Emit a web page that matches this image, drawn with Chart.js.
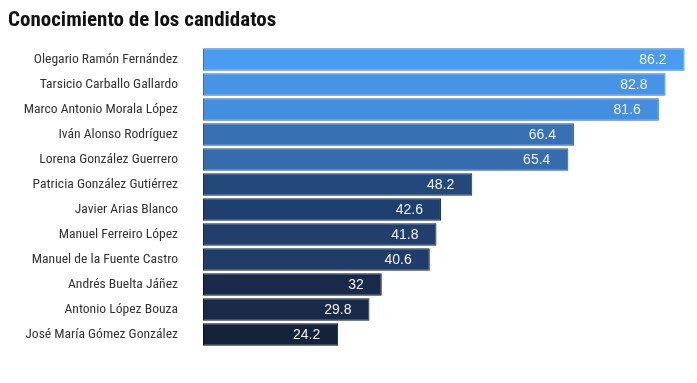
<!DOCTYPE html>
<html>
<head>
<meta charset="utf-8">
<script src="https://cdn.jsdelivr.net/npm/chart.js@4.4.1/dist/chart.umd.min.js"></script>
<style>
html,body{margin:0;padding:0;background:#fff;}
#wrap{width:697px;height:383px;position:relative;}
</style>
</head>
<body>
<div id="wrap"><canvas id="c" width="697" height="383"></canvas></div>
<script>
const titleText = "Conocimiento de los candidatos";
const candidates = [
  "Olegario Ramón Fernández",
  "Tarsicio Carballo Gallardo",
  "Marco Antonio Morala López",
  "Iván Alonso Rodríguez",
  "Lorena González Guerrero",
  "Patricia González Gutiérrez",
  "Javier Arias Blanco",
  "Manuel Ferreiro López",
  "Manuel de la Fuente Castro",
  "Andrés Buelta Jáñez",
  "Antonio López Bouza",
  "José María Gómez González"
];
const values = [86.2, 82.8, 81.6, 66.4, 65.4, 48.2, 42.6, 41.8, 40.6, 32, 29.8, 24.2];
const fillColors = ["#4a9cf0","#4794e6","#448ee0","#3870b4","#366cae","#23487a","#1f406e","#213e6c","#203c68","#18294a","#182a48","#14223a"];
const borderColors = ["#2f78c8","#2f72c0","#2e6cb8","#22528c","#225088","#142f58","#122a50","#12284c","#12264a","#0b1730","#0b1730","#081222"];

const condensed = "'Roboto Condensed','Liberation Sans Narrow','DejaVu Sans Condensed',Roboto,sans-serif";

const valueLabels = {
  id: 'valueLabels',
  afterDatasetsDraw(chart) {
    const ctx = chart.ctx;
    const meta = chart.getDatasetMeta(0);
    ctx.save();
    ctx.font = "14px 'Liberation Sans', Arial, sans-serif";
    ctx.fillStyle = "#f2f2f2";
    ctx.textAlign = "right";
    ctx.textBaseline = "middle";
    meta.data.forEach((bar, i) => {
      ctx.fillText(String(values[i]), bar.x - 18, bar.y + 1);
    });
    ctx.restore();
  }
};

new Chart(document.getElementById('c'), {
  type: 'bar',
  data: {
    labels: candidates,
    datasets: [{
      data: values,
      backgroundColor: fillColors,
      borderColor: borderColors,
      borderWidth: 1,
      borderSkipped: false,
      barPercentage: 0.9,
      categoryPercentage: 1.0
    }]
  },
  options: {
    indexAxis: 'y',
    responsive: false,
    animation: false,
    layout: { padding: { left: 8, right: 8, bottom: 36, top: 0 } },
    plugins: {
      legend: { display: false },
      tooltip: { enabled: false },
      title: {
        display: true,
        text: titleText,
        align: 'start',
        color: '#111',
        font: { family: condensed, size: 21, weight: 'bold', lineHeight: 1.2 },
        padding: { top: 8, bottom: 13.8 }
      }
    },
    scales: {
      x: { display: false, min: 0, max: 87 },
      y: {
        grid: { display: false },
        border: { display: false },
        ticks: {
          color: '#333',
          padding: 17,
          font: { family: condensed, size: 13.6 }
        },
        afterFit(scale) { scale.width = 195; }
      }
    }
  },
  plugins: [valueLabels]
});
</script>
</body>
</html>
